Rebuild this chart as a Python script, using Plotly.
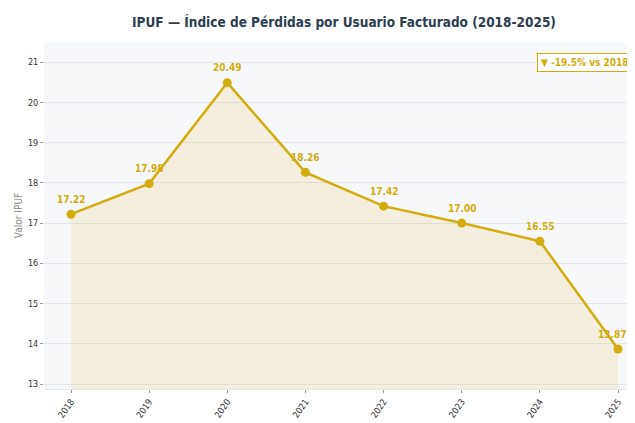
import plotly.graph_objects as go

years = ["2018", "2019", "2020", "2021", "2022", "2023", "2024", "2025"]
ipuf = [17.22, 17.98, 20.49, 18.26, 17.42, 17.00, 16.55, 13.87]
y_ticks = [13, 14, 15, 16, 17, 18, 19, 20, 21]
badge_text = "▼ -19.5% vs 2018"
title_text = "IPUF — Índice de Pérdidas por Usuario Facturado (2018-2025)"

GOLD = "#D4AC0D"
FONT = "DejaVu Sans Condensed, DejaVu Sans, sans-serif"

W, H = 627, 415          # page body has an 8px margin
L, R, T, B = 36, 0, 34, 34
PW, PH = W - L - R, H - T - B

xpos = list(range(len(years)))

fig = go.Figure()
fig.add_trace(go.Scatter(
    x=xpos, y=ipuf, mode="lines+markers",
    line=dict(color=GOLD, width=2.5),
    marker=dict(color=GOLD, size=9),
    fill="tozeroy", fillcolor="rgba(212,172,13,0.12)",
    showlegend=False, hoverinfo="skip",
))

last = len(xpos) - 1
for i, (xi, v) in enumerate(zip(xpos, ipuf)):
    fig.add_annotation(
        x=xi, y=v, text=f"{v:.2f}", showarrow=False, yshift=15,
        xshift=-6 if i == last else 0,
        font=dict(family=FONT, size=10, color=GOLD, weight="bold"),
    )

fig.add_annotation(
    xref="paper", yref="paper", x=(W - 2) / PW - L / PW, y=(T + PH - 55) / PH,
    xanchor="right", yanchor="middle", text=badge_text, showarrow=False,
    font=dict(family=FONT, size=10, color=GOLD, weight="bold"),
    bgcolor="rgba(255,255,255,0.9)", bordercolor=GOLD, borderwidth=1, borderpad=3,
)

fig.update_layout(
    width=W, height=H,
    margin=dict(l=L, r=R, t=T, b=B, autoexpand=False),
    paper_bgcolor="white", plot_bgcolor="#F7F8FA",
    font=dict(family=FONT, color="#333333"),
    title=dict(text=title_text, x=336 / W, xref="container", xanchor="center",
               y=1 - 14 / H, yref="container", yanchor="middle",
               font=dict(family=FONT, size=13.5, color="#2C3E50", weight="bold")),
)
fig.update_xaxes(
    range=[-0.3455, 7.2176], tickvals=xpos, ticktext=years, tickangle=-55,
    showgrid=False, zeroline=False, ticks="outside", ticklen=3, tickcolor="#999999",
    tickfont=dict(size=9, color="#333333"), showline=True, linecolor="#E5E7EB",
    automargin=False,
)
fig.update_yaxes(
    range=[12.876, 21.5], tickvals=y_ticks, showgrid=True, gridcolor="#E3E5EA",
    zeroline=False, ticks="outside", ticklen=3, tickcolor="#999999",
    tickfont=dict(size=9, color="#333333"),
    title=dict(text="Valor IPUF", font=dict(size=10, color="#888888"), standoff=3),
    automargin=False,
)

fig.write_html("out.html")
